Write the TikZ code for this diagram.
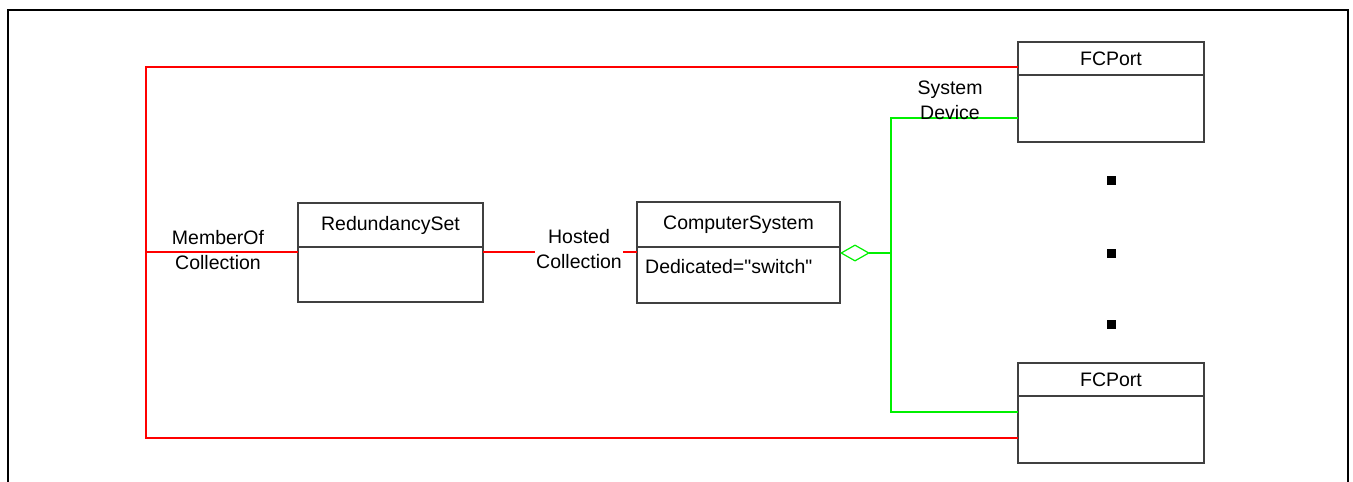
\documentclass[tikz,border=0pt]{standalone}
\usepackage{fontspec}
\setmainfont{Liberation Sans}[Ligatures=TeXOff]
\usetikzlibrary{positioning,arrows.meta}
\newcommand{\diagfont}{\fontsize{19.5pt}{25pt}\selectfont}
\tikzset{
    HD/.style ={rectangle,minimum width = #1, minimum height = 44pt, draw=black!75, line width=1.3pt, inner sep=0pt, outer sep=0pt},
    BD/.style ={rectangle,minimum width = #1, minimum height = 55pt, draw=black!75, line width=1.3pt, inner sep=0pt, outer sep=0pt},
    LB/.style ={align=center, inner sep=0pt},
    DT/.style ={rectangle, fill=black, minimum size=9pt, inner sep=0pt},
    RL/.style ={draw=red, line width=1.1pt},
    GL/.style ={draw={rgb,255:red,0;green,240;blue,0}, line width=1.2pt}}

\begin{document}
\begin{tikzpicture}[x=1pt,y=-1pt,font=\diagfont]
        \useasboundingbox (0,0) rectangle (1353,482);
        \draw[line width=2.5pt] (8,482) -- (8,10) -- (1348,10) -- (1348,482);
        % classes
        \node[HD=185pt] (RSH) at (390.5,225) {RedundancySet};
        \node[BD=185pt, below=0pt of RSH] (RSB) {};
        \node[HD=203pt, minimum height=45pt] (CSH) at (738.5,224.5) {ComputerSystem};
        \node[BD=203pt, minimum height=56pt, below=0pt of CSH] (CSB) {};
        \node[LB, anchor=west] (CSA) at (645,267) {Dedicated="switch"};
        \node[HD=186pt, minimum height=33pt] (FC1H) at (1111,58.5) {FCPort};
        \node[BD=186pt, minimum height=67pt, below=0pt of FC1H] (FC1B) {};
        \node[HD=186pt, minimum height=33pt] (FC2H) at (1111,379.5) {FCPort};
        \node[BD=186pt, minimum height=67pt, below=0pt of FC2H] (FC2B) {};
        \foreach \y/\n in {180/1,253/2,324/3}{
            \node[DT] (D\n) at (1111,\y) {};}
        % red associations
        \coordinate (RT) at (146,67);
        \coordinate (RB) at (146,438);
        \coordinate (RM) at (146,252);
        \draw[RL] (FC1H.west |- RT) -- (RT) -- (RB) -- (FC2B.west |- RB);
        \draw[RL, line width=2pt] (RM) -- (RSB.west |- RM);
        \draw[RL] (RSB.east |- RM) -- (CSB.west |- RM);
        \node[LB] (MOC) at (218,250) {MemberOf\\Collection};
        \node[LB, fill=white, inner sep=1.5pt] (HCL) at (579,249.5) {Hosted\\Collection};
        % green aggregation
        \coordinate (GT) at (891,118);
        \coordinate (GB) at (891,412);
        \coordinate (GM) at (891,253);
        \draw[GL] (FC1B.west |- GT) -- (GT) -- (GB) -- (FC2B.west |- GB);
        \draw[GL, {Diamond[open,length=30pt,width=17pt]}-] (CSB.east |- GM) -- (GM);
        \node[LB] (SDL) at (950,100) {System\\Device};
    \end{tikzpicture}
\end{document}
